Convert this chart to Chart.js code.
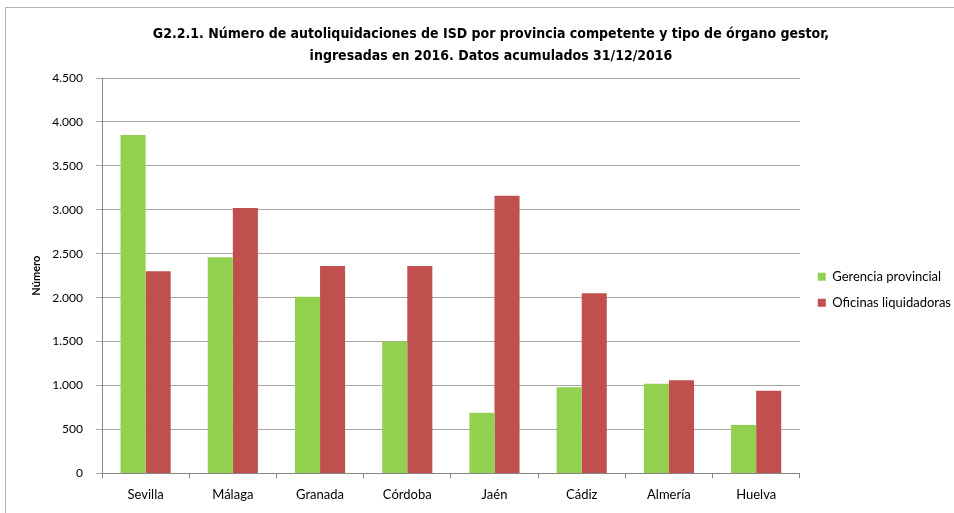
<!DOCTYPE html>
<html><head><meta charset="utf-8">
<script src="https://cdn.jsdelivr.net/npm/chart.js@4/dist/chart.umd.min.js"></script>
<style>
html,body{margin:0;padding:0;background:#fff;}
#wrap{position:relative;width:954px;height:513px;overflow:hidden;}
#frame{position:absolute;left:5px;top:7px;width:1000px;height:1000px;border:1px solid #b4b4b4;}
canvas{position:absolute;left:0;top:0;}
</style></head><body>
<div id="wrap"><div id="frame"></div><canvas id="c" width="954" height="513"></canvas></div>
<script>
const categories = ['Sevilla','Málaga','Granada','Córdoba','Jaén','Cádiz','Almería','Huelva'];
const gerenciaProvincial = [3850,2460,2010,1500,690,980,1020,550];
const oficinasLiquidadoras = [2300,3020,2360,2360,3160,2050,1060,940];
const seriesNames = ['Gerencia provincial','Oficinas liquidadoras'];
const titleLines = ['G2.2.1. Número de autoliquidaciones de ISD por provincia competente y tipo de órgano gestor,','ingresadas en 2016. Datos acumulados 31/12/2016'];
const yAxisTitle = 'Número';

const fmt = v => String(v).replace(/\B(?=(\d{3})+(?!\d))/g,'.');

const legendShift = {
  id:'legendShift',
  afterLayout(chart){ const l = chart.legend; if(l){ l.left += 5; l.right += 5; } }
};

new Chart(document.getElementById('c'), {
  type:'bar',
  data:{
    labels:categories,
    datasets:[
      {label:seriesNames[0], data:gerenciaProvincial, backgroundColor:'#92D050', borderWidth:0},
      {label:seriesNames[1], data:oficinasLiquidadoras, backgroundColor:'#C0504D', borderWidth:0}
    ]
  },
  plugins:[legendShift],
  options:{
    responsive:false, animation:false, devicePixelRatio:1,
    categoryPercentage:0.575, barPercentage:1.0,
    layout:{padding:{left:26, right:-2, top:0, bottom:1}},
    plugins:{
      title:{display:true, text:titleLines, color:'#000',
        font:{family:"'DejaVu Sans Condensed', 'DejaVu Sans', sans-serif", weight:'bold', size:14, lineHeight:22/14},
        padding:{top:23, bottom:11}},
      legend:{position:'right', align:'center', fullSize:false,
        title:{display:true, text:'', padding:0, font:{size:12, lineHeight:28/12}},
        labels:{boxWidth:8, boxHeight:8, padding:13, color:'#000', font:{family:'Lato', size:13}}},
      tooltip:{enabled:false}
    },
    scales:{
      x:{
        grid:{display:true, drawOnChartArea:false, drawTicks:true, tickLength:5, color:'#868686', offset:true},
        border:{color:'#868686'},
        ticks:{color:'#000', font:{family:'Lato', size:13}, padding:9}
      },
      y:{
        min:0, max:4500,
        grid:{color:'#a6a6a6', tickLength:6, drawTicks:true},
        border:{color:'#868686'},
        ticks:{stepSize:500, color:'#000', font:{family:'Lato', size:12}, padding:13, callback:v=>fmt(v)},
        title:{display:true, text:yAxisTitle, color:'#000', font:{family:'Lato', weight:'bold', size:11}, padding:{top:4,bottom:4}},
        afterFit:s=>{ s.width = 76; }
      }
    }
  }
});
</script>
</body></html>
